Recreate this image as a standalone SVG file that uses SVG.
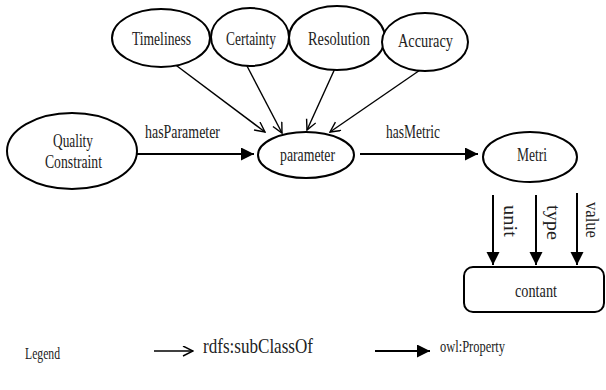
<svg xmlns="http://www.w3.org/2000/svg" width="606" height="390" viewBox="0 0 606 390">
  <style>
    .node { fill: #fff; stroke: #000; stroke-width: 2; }
    .lbl { font-family: "Liberation Serif", "Times New Roman", serif; font-size: 19px; fill: #222; }
    .sub { stroke: #000; stroke-width: 1.4; fill: none; }
    .prop { stroke: #000; stroke-width: 2; fill: none; }
  </style>
  <defs>
    <marker id="open" markerUnits="userSpaceOnUse" markerWidth="12" markerHeight="12" refX="11" refY="5.5" orient="auto">
      <path d="M1,0.5 L11,5.5 L1,10.5" fill="none" stroke="#000" stroke-width="1.4"/>
    </marker>
    <marker id="solid" markerUnits="userSpaceOnUse" markerWidth="14" markerHeight="14" refX="13" refY="6.5" orient="auto">
      <path d="M0,0 L13,6.5 L0,13 z" fill="#000"/>
    </marker>
  </defs>

  <rect width="606" height="390" fill="#fff"/>

  <g id="connectors">
    <line class="sub" x1="173" y1="63" x2="265" y2="132" marker-end="url(#open)"/>
    <line class="sub" x1="247" y1="66" x2="282" y2="133" marker-end="url(#open)"/>
    <line class="sub" x1="337" y1="64" x2="307" y2="130" marker-end="url(#open)"/>
    <line class="sub" x1="423" y1="68" x2="330" y2="132" marker-end="url(#open)"/>
    <line class="prop" x1="137" y1="154" x2="254" y2="154" marker-end="url(#solid)"/>
    <line class="prop" x1="360" y1="154" x2="478" y2="154" marker-end="url(#solid)"/>
    <line class="prop" x1="493" y1="195" x2="493" y2="265" marker-end="url(#solid)"/>
    <line class="prop" x1="536" y1="195" x2="536" y2="265" marker-end="url(#solid)"/>
    <line class="prop" x1="577" y1="193" x2="577" y2="265" marker-end="url(#solid)"/>
    <text class="lbl" x="145" y="138" textLength="75" lengthAdjust="spacingAndGlyphs">hasParameter</text>
    <text class="lbl" x="386" y="138" textLength="54" lengthAdjust="spacingAndGlyphs">hasMetric</text>
    <text class="lbl" transform="translate(504,205) rotate(90)" textLength="32" lengthAdjust="spacingAndGlyphs">unit</text>
    <text class="lbl" transform="translate(547,205) rotate(90)" textLength="35" lengthAdjust="spacingAndGlyphs">type</text>
    <text class="lbl" transform="translate(586,202) rotate(90)" textLength="36" lengthAdjust="spacingAndGlyphs">value</text>
  </g>

  <g id="timeliness">
    <ellipse class="node" cx="161" cy="38" rx="49" ry="29"/>
    <text class="lbl" x="132" y="45" textLength="59" lengthAdjust="spacingAndGlyphs">Timeliness</text>
  </g>
  <g id="certainty">
    <ellipse class="node" cx="250" cy="37" rx="39" ry="29"/>
    <text class="lbl" x="226" y="45" textLength="50" lengthAdjust="spacingAndGlyphs">Certainty</text>
  </g>
  <g id="resolution">
    <ellipse class="node" cx="337" cy="38" rx="48" ry="32"/>
    <text class="lbl" x="308" y="45" textLength="62" lengthAdjust="spacingAndGlyphs">Resolution</text>
  </g>
  <g id="accuracy">
    <ellipse class="node" cx="425" cy="42" rx="43" ry="29"/>
    <text class="lbl" x="398" y="47" textLength="55" lengthAdjust="spacingAndGlyphs">Accuracy</text>
  </g>
  <g id="quality-constraint">
    <ellipse class="node" cx="72" cy="151" rx="65" ry="38"/>
    <text class="lbl" x="53" y="147" textLength="40" lengthAdjust="spacingAndGlyphs">Quality</text>
    <text class="lbl" x="45" y="168" textLength="57" lengthAdjust="spacingAndGlyphs">Constraint</text>
  </g>
  <g id="parameter">
    <ellipse class="node" cx="306" cy="155" rx="48" ry="23"/>
    <text class="lbl" x="280" y="161" textLength="55" lengthAdjust="spacingAndGlyphs">parameter</text>
  </g>
  <g id="metri">
    <ellipse class="node" cx="530" cy="157" rx="47" ry="25"/>
    <text class="lbl" x="517" y="161" textLength="30" lengthAdjust="spacingAndGlyphs">Metri</text>
  </g>
  <g id="contant">
    <rect class="node" x="464" y="267" width="140" height="45" rx="9"/>
    <text class="lbl" x="515" y="297" textLength="42" lengthAdjust="spacingAndGlyphs">contant</text>
  </g>

  <g id="legend">
    <text class="lbl" x="25" y="359" style="font-size:16px" textLength="35" lengthAdjust="spacingAndGlyphs">Legend</text>
    <line class="sub" x1="154" y1="351" x2="193" y2="351" marker-end="url(#open)"/>
    <text class="lbl" x="203" y="353" style="font-size:22px" textLength="110" lengthAdjust="spacingAndGlyphs">rdfs:subClassOf</text>
    <line class="prop" x1="375" y1="351" x2="430" y2="351" marker-end="url(#solid)"/>
    <text class="lbl" x="440" y="352" style="font-size:16px" textLength="65" lengthAdjust="spacingAndGlyphs">owl:Property</text>
  </g>
</svg>
